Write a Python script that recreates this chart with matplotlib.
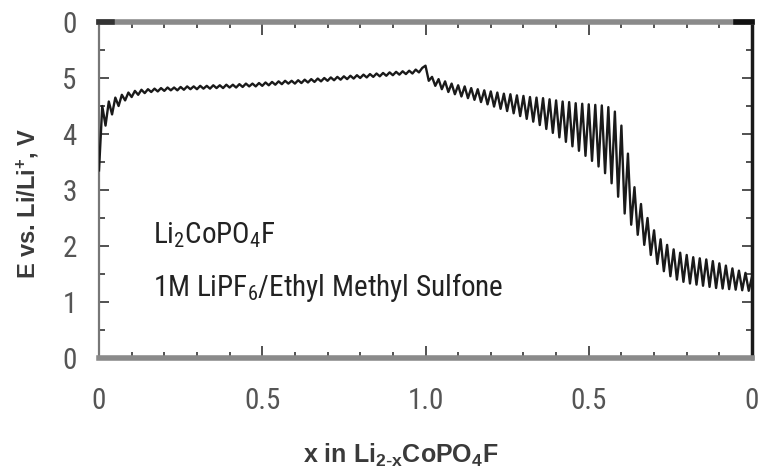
import numpy as np
import matplotlib
matplotlib.use('Agg')
import matplotlib.pyplot as plt
from matplotlib import font_manager
from matplotlib.ticker import MultipleLocator

plt.rcParams['mathtext.default'] = 'regular'

# charge: 0 -> 1 (pulse tops and relaxed points), then discharge 1 -> 0 plotted on 1 -> 2
charge_start = (0.0, 3.35)
charge_peak_x = np.arange(0.01, 1.0, 0.02)
charge_peak_v = [4.50, 4.58, 4.65, 4.70, 4.74, 4.77, 4.79, 4.80, 4.81, 4.82,
                 4.83, 4.83, 4.84, 4.85, 4.85, 4.86, 4.86, 4.87, 4.87, 4.88,
                 4.88, 4.89, 4.90, 4.90, 4.91, 4.92, 4.93, 4.94, 4.95, 4.95,
                 4.96, 4.97, 4.98, 4.99, 5.00, 5.01, 5.02, 5.03, 5.04, 5.05,
                 5.06, 5.07, 5.08, 5.09, 5.10, 5.11, 5.12, 5.13, 5.15, 5.18]
charge_trough_x = np.arange(0.02, 0.99, 0.02)
charge_trough_v = [4.15, 4.35, 4.50, 4.60, 4.66, 4.70, 4.73, 4.75, 4.76, 4.77,
                   4.78, 4.78, 4.79, 4.80, 4.80, 4.81, 4.81, 4.82, 4.82, 4.83,
                   4.83, 4.84, 4.85, 4.85, 4.86, 4.87, 4.88, 4.89, 4.90, 4.90,
                   4.91, 4.92, 4.93, 4.94, 4.95, 4.96, 4.97, 4.98, 4.99, 5.00,
                   5.01, 5.02, 5.03, 5.04, 5.05, 5.06, 5.07, 5.08, 5.10]
top_of_charge = (1.0, 5.22)

dis_trough_x = np.arange(1.01, 2.0, 0.02)
dis_trough_v = [4.95, 4.86, 4.80, 4.75, 4.71, 4.67, 4.64, 4.61, 4.57, 4.53,
                4.49, 4.45, 4.41, 4.37, 4.32, 4.27, 4.22, 4.16, 4.09, 4.02,
                3.94, 3.86, 3.78, 3.70, 3.61, 3.52, 3.42, 3.30, 3.12, 2.88,
                2.58, 2.38, 2.20, 2.02, 1.84, 1.68, 1.55, 1.46, 1.40, 1.36,
                1.33, 1.31, 1.29, 1.27, 1.25, 1.24, 1.23, 1.22, 1.21, 1.20]
dis_peak_x = np.arange(1.02, 2.005, 0.02)
dis_peak_v = [5.02, 4.98, 4.94, 4.90, 4.87, 4.85, 4.82, 4.80, 4.78, 4.76,
              4.74, 4.72, 4.71, 4.69, 4.68, 4.66, 4.65, 4.64, 4.62, 4.60,
              4.58, 4.57, 4.55, 4.54, 4.53, 4.52, 4.51, 4.48, 4.40, 4.15,
              3.65, 3.05, 2.75, 2.50, 2.28, 2.12, 2.02, 1.94, 1.88, 1.84,
              1.80, 1.78, 1.76, 1.73, 1.69, 1.65, 1.60, 1.56, 1.52, 1.45]

x_tick_pos = [0, 0.5, 1.0, 1.5, 2.0]
x_tick_lab = ['0', '0.5', '1.0', '0.5', '0']
y_tick_pos = [0, 1, 2, 3, 4, 5, 6]
y_tick_lab = ['0', '1', '2', '3', '4', '5', '0']

# stitch the sawtooth together in time order
cx = np.empty(len(charge_peak_x) + len(charge_trough_x))
cv = np.empty_like(cx)
cx[0::2], cv[0::2] = charge_peak_x, charge_peak_v
cx[1::2], cv[1::2] = charge_trough_x, charge_trough_v
dx = np.empty(len(dis_trough_x) + len(dis_peak_x))
dv = np.empty_like(dx)
dx[0::2], dv[0::2] = dis_trough_x, dis_trough_v
dx[1::2], dv[1::2] = dis_peak_x, dis_peak_v
xs = np.concatenate([[charge_start[0]], cx, [top_of_charge[0]], dx])
vs = np.concatenate([[charge_start[1]], cv, [top_of_charge[1]], dv])

# look for a narrow sans face for the tick labels and notes
narrow_file = None
for f in font_manager.fontManager.ttflist:
    base = f.fname.lower()
    if ('narrow' in base or 'condensed' in base) and f.style == 'normal' \
            and f.weight in (400, 'normal', 'regular') and 'mono' not in base:
        narrow_file = f.fname
        if 'liberation' in base:
            break
if narrow_file:
    narrow_name = font_manager.FontProperties(fname=narrow_file).get_name()
    narrow = [narrow_name, 'DejaVu Sans']
    num_size, note_size = 21, 21
else:
    narrow = ['Liberation Sans', 'DejaVu Sans']
    num_size, note_size = 17, 17

fig = plt.figure(figsize=(7.62, 4.74), dpi=100)
ax = fig.add_axes([99 / 762, 1 - 358 / 474, 653 / 762, 336 / 474])

ax.plot(xs, vs, color='#1a1a1a', lw=1.7, zorder=3)

ax.set_xlim(0, 2)
ax.set_ylim(0, 6)

ax.set_xticks(x_tick_pos)
ax.set_xticklabels(x_tick_lab)
ax.set_yticks(y_tick_pos)
ax.set_yticklabels(y_tick_lab)
ax.xaxis.set_minor_locator(MultipleLocator(0.1))
ax.yaxis.set_minor_locator(MultipleLocator(0.5))

ax.tick_params(axis='both', which='both', direction='in', color='#333',
               top=True, right=True)
ax.tick_params(axis='x', which='major', length=9, width=1.2, pad=21)
ax.tick_params(axis='x', which='minor', length=4, width=1.2)
ax.tick_params(axis='y', which='major', length=7, width=1.2, pad=16)
ax.tick_params(axis='y', which='minor', length=4, width=1.2)
for lab in ax.get_xticklabels() + ax.get_yticklabels():
    lab.set_family(narrow)
    lab.set_fontsize(num_size)
    lab.set_color('#555555')

ax.spines['left'].set_color('#777777')
ax.spines['left'].set_linewidth(1.6)
ax.spines['bottom'].set_color('#8a8a8a')
ax.spines['bottom'].set_linewidth(4)
ax.spines['top'].set_color('#8a8a8a')
ax.spines['top'].set_linewidth(4)
ax.spines['right'].set_color('#1a1a1a')
ax.spines['right'].set_linewidth(2.5)
ax.axhline(6, xmin=0.975, xmax=1.0, color='#111', lw=4, clip_on=False, zorder=4)
ax.axhline(6, xmin=0.0, xmax=0.02, color='#333', lw=4, clip_on=False, zorder=4)

ax.set_xlabel('x in Li$_{2\\text{-}x}$CoPO$_4$F', fontsize=18, fontweight='bold',
              family='Liberation Sans', color='#3a3a3a')
ax.xaxis.set_label_coords(0.462, -0.289)
ax.xaxis.label.set_va('center')
ax.set_ylabel('E vs. Li/Li$^{+}$, V', fontsize=17, fontweight='bold',
              family='Liberation Sans', color='#3a3a3a')
ax.yaxis.set_label_coords(-0.109, 0.461)
ax.yaxis.label.set_va('center')

ax.text(0.083, 0.366, 'Li$_2$CoPO$_4$F', transform=ax.transAxes, family=narrow,
        fontsize=note_size, color='#222222', va='center')
ax.text(0.083, 0.211, '1M LiPF$_6$/Ethyl Methyl Sulfone', transform=ax.transAxes,
        family=narrow, fontsize=note_size, color='#222222', va='center')

fig.savefig('out.png', dpi=100)
